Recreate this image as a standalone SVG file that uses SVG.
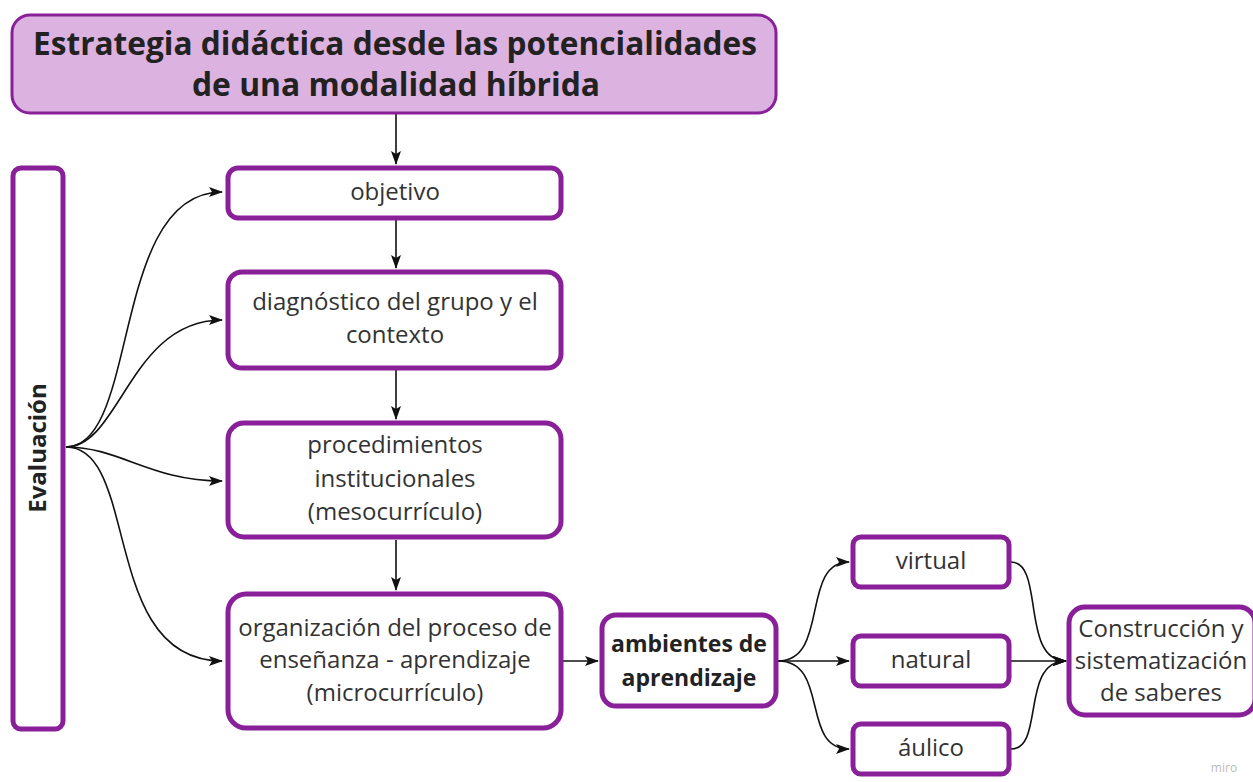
<svg xmlns="http://www.w3.org/2000/svg" width="1253" height="782" viewBox="0 0 1253 782">
<defs>
<style>
.box{fill:#ffffff;stroke:#8a1f9a;stroke-width:5}
.title{fill:#dcb2e1;stroke:#8a1f9a;stroke-width:3}
.t{font-family:"Open Sans","Liberation Sans",sans-serif;font-size:24px;fill:#333;text-anchor:middle}
.b{font-weight:bold;fill:#222}
.h{font-size:32px}
.c{fill:none;stroke:#111;stroke-width:1.6}
</style>
<marker id="ah" viewBox="0 0 14 10" refX="13" refY="5" markerWidth="14" markerHeight="10" markerUnits="userSpaceOnUse" orient="auto">
<path d="M0,0 L14,5 L0,10 L3,5 Z" fill="#111"/>
</marker>
</defs>
<rect width="1253" height="782" fill="#fff"/>
<g id="connectors">
<path class="c" d="M396,114 V164" marker-end="url(#ah)"/>
<path class="c" d="M396,219 V268" marker-end="url(#ah)"/>
<path class="c" d="M396,370 V419" marker-end="url(#ah)"/>
<path class="c" d="M396,540 V590" marker-end="url(#ah)"/>
<path class="c" d="M66,447 C140,447 110,192 222,192" marker-end="url(#ah)"/>
<path class="c" d="M66,447 C120,447 130,320 222,320" marker-end="url(#ah)"/>
<path class="c" d="M66,447 C120,447 150,481 222,481" marker-end="url(#ah)"/>
<path class="c" d="M66,447 C140,447 100,661 222,661" marker-end="url(#ah)"/>
<path class="c" d="M563,661 H598" marker-end="url(#ah)"/>
<path class="c" d="M778,661 C830,661 800,562 849,562" marker-end="url(#ah)"/>
<path class="c" d="M778,661 H849" marker-end="url(#ah)"/>
<path class="c" d="M778,661 C830,661 800,749 849,749" marker-end="url(#ah)"/>
<path class="c" d="M1011,562 C1045,562 1020,661 1066,661" marker-end="url(#ah)"/>
<path class="c" d="M1011,661 H1066" marker-end="url(#ah)"/>
<path class="c" d="M1011,749 C1045,749 1020,661 1066,661" marker-end="url(#ah)"/>
</g>
<g id="title">
<rect class="title" x="12" y="15" width="764" height="98" rx="18"/>
<text class="t b h" x="395" y="55" textLength="724" lengthAdjust="spacingAndGlyphs">Estrategia didáctica desde las potencialidades</text>
<text class="t b h" x="396" y="96" textLength="408" lengthAdjust="spacingAndGlyphs">de una modalidad híbrida</text>
</g>
<g id="evaluacion">
<rect class="box" x="13" y="168" width="50" height="561" rx="8"/>
<text class="t b" transform="translate(46,448) rotate(-90)">Evaluación</text>
</g>
<g id="objetivo">
<rect class="box" x="228" y="168" width="333" height="50" rx="10"/>
<text class="t" x="395" y="200">objetivo</text>
</g>
<g id="diagnostico">
<rect class="box" x="228" y="272" width="333" height="96" rx="14"/>
<text class="t" x="395" y="310">diagnóstico del grupo y el</text>
<text class="t" x="395" y="343">contexto</text>
</g>
<g id="procedimientos">
<rect class="box" x="228" y="423" width="333" height="114" rx="16"/>
<text class="t" x="395" y="453">procedimientos</text>
<text class="t" x="395" y="487">institucionales</text>
<text class="t" x="395" y="520">(mesocurrículo)</text>
</g>
<g id="organizacion">
<rect class="box" x="228" y="594" width="333" height="134" rx="18"/>
<text class="t" x="395" y="636">organización del proceso de</text>
<text class="t" x="395" y="668">enseñanza - aprendizaje</text>
<text class="t" x="395" y="701">(microcurrículo)</text>
</g>
<g id="ambientes">
<rect class="box" x="602" y="615" width="174" height="91" rx="14"/>
<text class="t b" x="689" y="652" style="font-size:23px">ambientes de</text>
<text class="t b" x="689" y="686" style="font-size:23px">aprendizaje</text>
</g>
<g id="virtual">
<rect class="box" x="853" y="537" width="156" height="50" rx="8"/>
<text class="t" x="931" y="569">virtual</text>
</g>
<g id="natural">
<rect class="box" x="853" y="636" width="156" height="50" rx="8"/>
<text class="t" x="931" y="668">natural</text>
</g>
<g id="aulico">
<rect class="box" x="853" y="724" width="156" height="50" rx="8"/>
<text class="t" x="931" y="756">áulico</text>
</g>
<g id="construccion">
<rect class="box" x="1069" y="607" width="186" height="108" rx="16"/>
<text class="t" x="1161" y="637">Construcción y</text>
<text class="t" x="1161" y="669">sistematización</text>
<text class="t" x="1161" y="701">de saberes</text>
</g>
<text x="1224" y="772" style="font-family:'Open Sans','Liberation Sans',sans-serif;font-size:12px;fill:#bbb;text-anchor:middle">miro</text>
</svg>
